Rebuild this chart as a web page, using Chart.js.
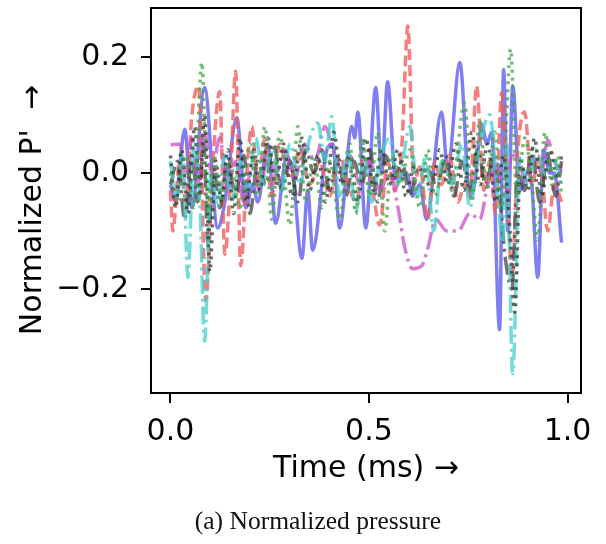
<!DOCTYPE html>
<html>
<head>
<meta charset="utf-8">
<script src="https://cdn.jsdelivr.net/npm/chart.js@4"></script>
<style>
  html,body{margin:0;padding:0;background:#fff;}
  #wrap{position:relative;width:606px;height:544px;}
  #caption{position:absolute;left:30px;top:506px;width:576px;text-align:center;font-family:"Liberation Serif","DejaVu Serif",serif;font-size:25.5px;color:#111;}
</style>
</head>
<body>
<div id="wrap">
  <canvas id="c" width="606" height="544"></canvas>
  <div id="caption">(a) Normalized pressure</div>
</div>
<script>
// Each series: [time (ms), normalized P'] pairs
const seriesBlueSolid = [[0.000,-0.02],[0.013,-0.05],[0.036,0.075],[0.054,-0.06],[0.086,0.147],[0.119,-0.095],[0.137,-0.05],[0.167,0.095],[0.190,-0.06],[0.207,-0.02],[0.220,-0.05],[0.245,0.05],[0.265,-0.087],[0.293,0.028],[0.308,0.0],[0.331,-0.147],[0.346,-0.03],[0.358,-0.133],[0.394,0.04],[0.409,0.05],[0.426,-0.095],[0.457,0.08],[0.464,0.06],[0.472,0.105],[0.492,-0.095],[0.517,0.147],[0.532,0.0],[0.547,0.157],[0.567,-0.01],[0.595,0.0],[0.610,-0.04],[0.628,-0.02],[0.645,-0.08],[0.683,0.105],[0.698,0.005],[0.729,0.19],[0.754,-0.04],[0.766,-0.02],[0.784,0.083],[0.797,0.05],[0.809,0.07],[0.829,-0.27],[0.839,0.178],[0.850,-0.1],[0.862,0.15],[0.880,-0.03],[0.900,0.0],[0.910,-0.02],[0.925,-0.18],[0.940,0.04],[0.955,0.0],[0.967,0.0],[0.985,-0.12]];
const seriesRedDashed = [[0.000,-0.03],[0.006,-0.10],[0.023,0.02],[0.039,-0.05],[0.054,0.10],[0.071,0.15],[0.089,-0.22],[0.107,0.02],[0.124,0.14],[0.137,-0.14],[0.152,0.0],[0.164,0.175],[0.177,-0.16],[0.192,0.0],[0.205,0.08],[0.220,-0.02],[0.238,0.06],[0.255,-0.04],[0.275,0.05],[0.301,-0.01],[0.326,0.04],[0.351,-0.02],[0.376,0.02],[0.401,-0.04],[0.426,0.03],[0.447,-0.02],[0.469,-0.05],[0.489,0.03],[0.507,-0.02],[0.527,-0.09],[0.547,0.02],[0.565,-0.03],[0.583,0.05],[0.598,0.253],[0.613,-0.02],[0.628,0.01],[0.648,-0.08],[0.666,0.02],[0.683,-0.02],[0.703,0.03],[0.724,-0.05],[0.741,-0.02],[0.754,-0.04],[0.771,0.15],[0.789,-0.03],[0.804,0.02],[0.819,-0.07],[0.834,0.138],[0.847,0.0],[0.860,-0.18],[0.875,0.04],[0.892,0.105],[0.910,-0.02],[0.930,0.03],[0.950,-0.1],[0.967,-0.02],[0.985,-0.05]];
const seriesGreenDotted = [[0.000,0.0],[0.018,-0.05],[0.039,0.03],[0.059,-0.06],[0.079,0.19],[0.094,-0.07],[0.109,0.03],[0.129,-0.05],[0.149,0.02],[0.175,-0.06],[0.200,0.05],[0.220,-0.04],[0.238,0.08],[0.255,-0.08],[0.275,0.07],[0.301,-0.09],[0.321,0.08],[0.341,-0.05],[0.361,0.03],[0.381,-0.06],[0.401,0.02],[0.426,-0.08],[0.452,0.05],[0.467,-0.07],[0.482,0.06],[0.502,-0.04],[0.522,0.07],[0.540,-0.1],[0.557,0.03],[0.578,-0.02],[0.603,0.04],[0.628,-0.06],[0.648,0.04],[0.666,-0.04],[0.691,0.02],[0.708,-0.03],[0.741,0.12],[0.759,-0.05],[0.779,0.09],[0.797,-0.03],[0.817,0.07],[0.834,-0.06],[0.857,0.213],[0.872,-0.04],[0.892,0.06],[0.908,0.0],[0.925,-0.115],[0.943,0.07],[0.960,-0.02],[0.975,0.03],[0.985,-0.04]];
const seriesCyanDashDot = [[0.000,0.02],[0.016,-0.04],[0.031,0.03],[0.044,-0.18],[0.059,0.05],[0.074,-0.05],[0.086,-0.29],[0.102,0.0],[0.119,-0.06],[0.137,0.03],[0.154,-0.05],[0.175,0.02],[0.195,-0.03],[0.215,0.06],[0.235,-0.02],[0.255,0.04],[0.280,-0.03],[0.301,0.05],[0.326,-0.02],[0.351,0.06],[0.371,0.086],[0.389,0.02],[0.406,0.097],[0.426,-0.04],[0.447,0.04],[0.467,-0.07],[0.487,0.03],[0.507,-0.05],[0.527,0.02],[0.552,0.06],[0.573,-0.02],[0.603,0.08],[0.623,-0.04],[0.643,0.03],[0.663,-0.1],[0.683,0.02],[0.708,-0.02],[0.734,0.05],[0.754,-0.06],[0.774,0.03],[0.804,0.10],[0.822,-0.02],[0.837,-0.12],[0.847,0.05],[0.862,-0.346],[0.880,0.03],[0.900,-0.02],[0.920,0.04],[0.943,0.0],[0.967,0.02],[0.985,-0.02]];
const seriesMagentaDashDot = [[0.000,0.048],[0.023,0.05],[0.039,0.0],[0.054,0.06],[0.069,-0.02],[0.084,0.08],[0.104,0.0],[0.124,0.06],[0.144,-0.03],[0.164,0.02],[0.185,-0.05],[0.205,0.01],[0.225,-0.03],[0.245,0.03],[0.265,0.0],[0.288,0.04],[0.313,-0.01],[0.338,0.05],[0.364,0.02],[0.389,0.08],[0.409,0.04],[0.432,0.0],[0.452,0.03],[0.477,-0.02],[0.502,0.02],[0.527,-0.03],[0.552,0.0],[0.573,-0.06],[0.590,-0.128],[0.610,-0.165],[0.633,-0.16],[0.648,-0.13],[0.668,-0.08],[0.696,-0.10],[0.724,-0.10],[0.754,-0.07],[0.779,-0.08],[0.799,-0.02],[0.819,0.02],[0.842,-0.04],[0.860,0.03],[0.875,0.03],[0.895,-0.02],[0.915,0.03],[0.935,0.0],[0.950,0.057],[0.967,0.02],[0.985,0.0]];
const seriesGreyDotted = [[0.000,0.03],[0.013,-0.06],[0.028,0.04],[0.044,-0.07],[0.061,0.08],[0.074,-0.04],[0.086,0.1],[0.099,-0.17],[0.114,0.02],[0.129,-0.05],[0.144,0.04],[0.159,-0.07],[0.175,0.06],[0.190,-0.05],[0.210,0.04],[0.225,-0.03],[0.245,0.06],[0.265,-0.02],[0.285,0.05],[0.306,-0.04],[0.331,0.06],[0.351,-0.03],[0.371,0.03],[0.391,-0.05],[0.411,0.07],[0.432,-0.02],[0.452,0.03],[0.472,-0.05],[0.492,0.06],[0.512,-0.03],[0.532,0.04],[0.552,-0.02],[0.573,0.04],[0.593,-0.04],[0.613,0.01],[0.638,0.0],[0.658,-0.03],[0.678,0.04],[0.698,-0.02],[0.719,0.05],[0.739,-0.03],[0.759,0.07],[0.779,-0.02],[0.799,0.05],[0.819,-0.05],[0.839,0.03],[0.855,-0.1],[0.867,-0.24],[0.882,0.02],[0.900,-0.03],[0.917,0.06],[0.935,-0.04],[0.955,0.04],[0.975,-0.01],[0.985,0.03]];
const seriesGreyDashDot = [[0.000,-0.02],[0.018,0.02],[0.036,-0.08],[0.054,0.03],[0.069,-0.05],[0.084,0.05],[0.094,-0.12],[0.109,0.01],[0.124,-0.06],[0.144,0.02],[0.164,-0.04],[0.185,0.03],[0.200,-0.07],[0.220,0.02],[0.240,-0.02],[0.260,0.05],[0.280,-0.03],[0.301,0.02],[0.321,-0.05],[0.341,0.04],[0.361,0.0],[0.381,0.04],[0.401,-0.03],[0.421,0.03],[0.442,-0.04],[0.462,0.02],[0.482,-0.02],[0.502,0.04],[0.522,-0.05],[0.542,0.03],[0.562,-0.01],[0.583,0.02],[0.603,-0.04],[0.623,0.005],[0.648,0.005],[0.673,-0.02],[0.693,0.03],[0.714,-0.04],[0.734,0.02],[0.754,-0.03],[0.774,0.04],[0.794,-0.02],[0.814,0.03],[0.829,-0.04],[0.844,-0.15],[0.860,-0.2],[0.875,0.0],[0.892,-0.03],[0.910,0.04],[0.930,-0.05],[0.950,0.03],[0.970,-0.04],[0.985,0.02]];

const xTicks = [0.0, 0.5, 1.0];
const yTicks = [-0.2, 0.0, 0.2];

const toPts = s => s.map(p => ({x: p[0], y: p[1]}));
const lw = 3.5;
const datasets = [
  {data: toPts(seriesGreenDotted), borderColor: 'rgba(70,165,70,0.75)', borderDash: [3,5]},
  {data: toPts(seriesGreyDotted), borderColor: 'rgba(45,60,50,0.75)', borderDash: [3,5]},
  {data: toPts(seriesCyanDashDot), borderColor: 'rgba(70,205,205,0.75)', borderDash: [18,5,3,5]},
  {data: toPts(seriesMagentaDashDot), borderColor: 'rgba(200,80,200,0.75)', borderDash: [18,5,3,5]},
  {data: toPts(seriesGreyDashDot), borderColor: 'rgba(70,70,70,0.75)', borderDash: [18,5,3,5]},
  {data: toPts(seriesRedDashed), borderColor: 'rgba(240,95,95,0.8)', borderDash: [11,5]},
  {data: toPts(seriesBlueSolid), borderColor: 'rgba(95,95,240,0.8)', borderDash: []}
].map(d => Object.assign({borderWidth: lw, pointRadius: 0, fill: false, cubicInterpolationMode: 'monotone'}, d));

const frame = {
  id: 'frame',
  afterDraw(chart) {
    const {ctx, chartArea: a} = chart;
    ctx.save();
    ctx.strokeStyle = '#000';
    ctx.lineWidth = 2;
    ctx.strokeRect(a.left, a.top, a.right - a.left, a.bottom - a.top);
    ctx.restore();
  }
};

const tickFont = {family: '"DejaVu Sans"', size: 30};
new Chart(document.getElementById('c'), {
  type: 'line',
  data: {datasets},
  options: {
    responsive: false,
    animation: false,
    layout: {padding: {top: 8, right: 25, left: 0, bottom: 0}},
    plugins: {legend: {display: false}, tooltip: {enabled: false}},
    scales: {
      x: {
        type: 'linear', min: -0.049, max: 1.034,
        afterBuildTicks: s => { s.ticks = xTicks.map(v => ({value: v})); },
        afterFit: s => { s.height = 151; s.paddingLeft = 0; s.paddingRight = 0; },
        ticks: {font: tickFont, color: '#000', padding: 11, maxRotation: 0, callback: v => v.toFixed(1)},
        grid: {drawOnChartArea: false, drawTicks: true, tickLength: 10, color: '#000', lineWidth: 2},
        border: {display: true, color: '#000', width: 2},
        title: {display: true, text: 'Time (ms) \u2192', font: tickFont, color: '#000', padding: {top: 0, bottom: 57}}
      },
      y: {
        type: 'linear', min: -0.379, max: 0.284,
        afterBuildTicks: s => { s.ticks = yTicks.map(v => ({value: v})); },
        afterFit: s => { s.width = 151; s.paddingTop = 0; s.paddingBottom = 0; },
        ticks: {font: tickFont, color: '#000', padding: 12, callback: v => (v < 0 ? '\u2212' + Math.abs(v).toFixed(1) : v.toFixed(1))},
        grid: {drawOnChartArea: false, drawTicks: true, tickLength: 10, color: '#000', lineWidth: 2},
        border: {display: true, color: '#000', width: 2},
        title: {display: true, text: "Normalized P'  \u2192  ", font: tickFont, color: '#000', padding: {top: 15, bottom: 0}}
      }
    }
  },
  plugins: [frame]
});
</script>
</body>
</html>
